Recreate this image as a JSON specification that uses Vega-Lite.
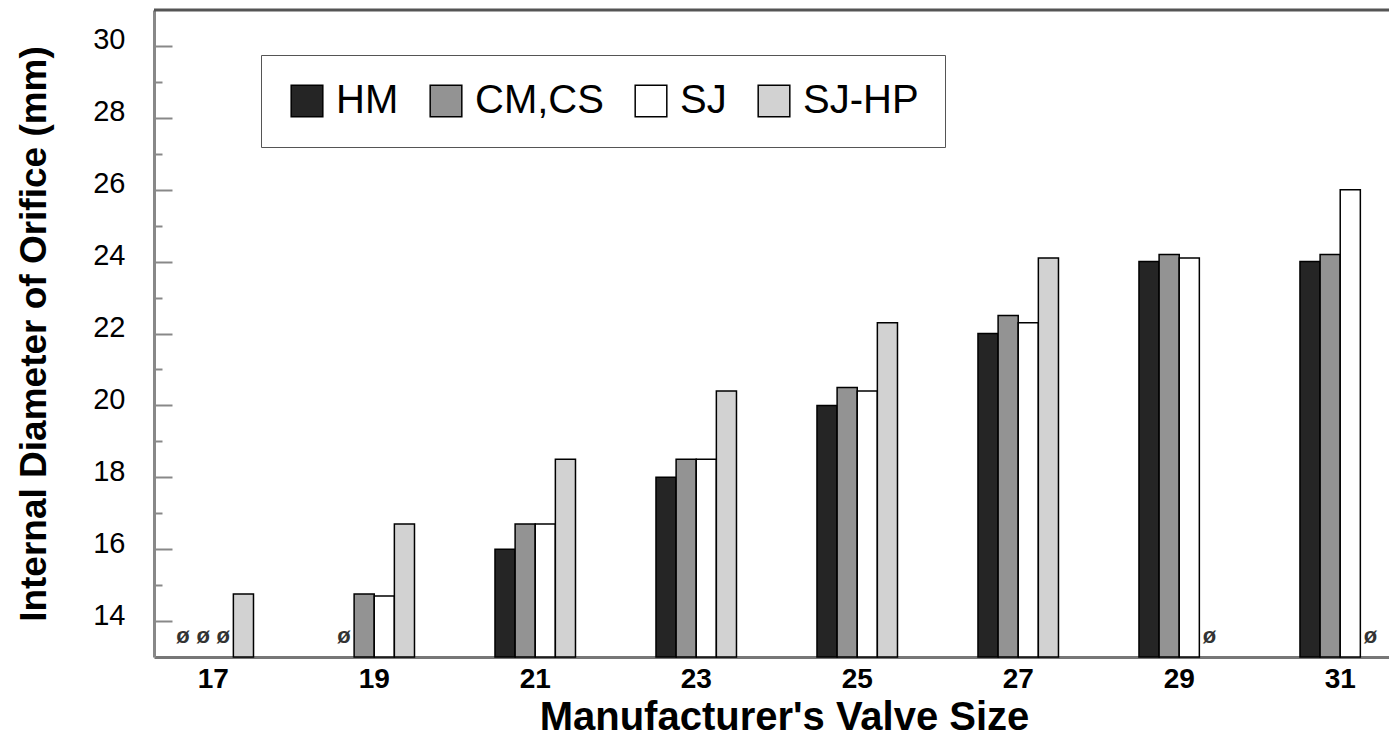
{
  "$schema": "https://vega.github.io/schema/vega-lite/v6.json",
  "width": 1235,
  "height": 647,
  "autosize": "none",
  "padding": {"left": 154, "top": 10, "right": 0, "bottom": 81},
  "background": "white",
  "data": {
    "values": [
      {"size": 17, "series": "HM", "value": null},
      {"size": 17, "series": "CM,CS", "value": null},
      {"size": 17, "series": "SJ", "value": null},
      {"size": 17, "series": "SJ-HP", "value": 14.75},
      {"size": 19, "series": "HM", "value": null},
      {"size": 19, "series": "CM,CS", "value": 14.75},
      {"size": 19, "series": "SJ", "value": 14.7},
      {"size": 19, "series": "SJ-HP", "value": 16.7},
      {"size": 21, "series": "HM", "value": 16.0},
      {"size": 21, "series": "CM,CS", "value": 16.7},
      {"size": 21, "series": "SJ", "value": 16.7},
      {"size": 21, "series": "SJ-HP", "value": 18.5},
      {"size": 23, "series": "HM", "value": 18.0},
      {"size": 23, "series": "CM,CS", "value": 18.5},
      {"size": 23, "series": "SJ", "value": 18.5},
      {"size": 23, "series": "SJ-HP", "value": 20.4},
      {"size": 25, "series": "HM", "value": 20.0},
      {"size": 25, "series": "CM,CS", "value": 20.5},
      {"size": 25, "series": "SJ", "value": 20.4},
      {"size": 25, "series": "SJ-HP", "value": 22.3},
      {"size": 27, "series": "HM", "value": 22.0},
      {"size": 27, "series": "CM,CS", "value": 22.5},
      {"size": 27, "series": "SJ", "value": 22.3},
      {"size": 27, "series": "SJ-HP", "value": 24.1},
      {"size": 29, "series": "HM", "value": 24.0},
      {"size": 29, "series": "CM,CS", "value": 24.2},
      {"size": 29, "series": "SJ", "value": 24.1},
      {"size": 29, "series": "SJ-HP", "value": null},
      {"size": 31, "series": "HM", "value": 24.0},
      {"size": 31, "series": "CM,CS", "value": 24.2},
      {"size": 31, "series": "SJ", "value": 26.0},
      {"size": 31, "series": "SJ-HP", "value": null}
    ]
  },
  "layer": [
    {
      "transform": [{"filter": "datum.value != null"}],
      "mark": {"type": "bar", "stroke": "black", "strokeWidth": 1.5},
      "encoding": {
        "x": {
          "field": "size",
          "type": "ordinal",
          "scale": {"paddingInner": 0.5, "paddingOuter": 0.0855, "align": 0.69},
          "axis": {
            "title": "Manufacturer's Valve Size",
            "titleFontSize": 40,
            "titleFontWeight": "bold",
            "titleColor": "black",
            "titleFont": "Liberation Sans",
            "titlePadding": 4,
            "titleX": 630,
            "labelFontSize": 28,
            "labelFontWeight": "bold",
            "labelColor": "black",
            "labelFont": "Liberation Sans",
            "labelAngle": 0,
            "labelPadding": 8,
            "ticks": false,
            "domain": true,
            "domainColor": "#777777",
            "domainWidth": 3
          }
        },
        "xOffset": {
          "field": "series",
          "type": "nominal",
          "scale": {"domain": ["HM", "CM,CS", "SJ", "SJ-HP"], "paddingInner": 0, "paddingOuter": 0}
        },
        "y": {
          "field": "value",
          "type": "quantitative",
          "scale": {"domain": [13, 31], "zero": false, "nice": false},
          "axis": {
            "title": "Internal Diameter of Orifice (mm)",
            "titleFontSize": 37,
            "titleFontWeight": "bold",
            "titleColor": "black",
            "titleFont": "Liberation Sans",
            "titlePadding": 39,
            "values": [14, 15, 16, 17, 18, 19, 20, 21, 22, 23, 24, 25, 26, 27, 28, 29, 30],
            "labelExpr": "datum.value % 2 == 0 ? datum.label : ''",
            "labelFontSize": 29,
            "labelColor": "black",
            "labelFont": "Liberation Sans",
            "labelPadding": 47,
            "labelOffset": -6,
            "tickSize": {"condition": {"test": "datum.value % 2 == 0", "value": -18}, "value": -8},
            "tickColor": "#888888",
            "tickWidth": 2,
            "grid": false,
            "domain": true,
            "domainColor": "#888888",
            "domainWidth": 3
          }
        },
        "y2": {"datum": 13},
        "color": {
          "field": "series",
          "type": "nominal",
          "scale": {"domain": ["HM", "CM,CS", "SJ", "SJ-HP"], "range": ["#252525", "#939393", "#ffffff", "#d2d2d2"]},
          "legend": {
            "orient": "none",
            "legendX": 107,
            "legendY": 45,
            "direction": "horizontal",
            "title": null,
            "padding": 26,
            "strokeColor": "#555555",
            "fillColor": "white",
            "labelFontSize": 40,
            "labelFont": "Liberation Sans",
            "labelColor": "black",
            "labelOffset": 9,
            "columnPadding": 27,
            "symbolType": "square",
            "symbolSize": 1000,
            "symbolOpacity": 1,
            "labelLimit": 300,
            "encode": {
              "legend": {"update": {"strokeWidth": {"value": 2.5}}},
              "symbols": {"update": {"stroke": {"value": "black"}, "strokeWidth": {"value": 1.5}}}
            }
          }
        }
      }
    },
    {
      "transform": [{"filter": "datum.value == null"}],
      "mark": {"type": "text", "text": "ø", "fontSize": 22, "fontWeight": "bold", "font": "Liberation Sans", "color": "#333333"},
      "encoding": {
        "x": {"field": "size", "type": "ordinal"},
        "xOffset": {"field": "series", "type": "nominal"},
        "y": {"datum": 13.59, "type": "quantitative"}
      }
    },
    {
      "data": {"values": [{"top": 31}]},
      "mark": {"type": "rule", "stroke": "#555555", "strokeWidth": 3},
      "encoding": {"y": {"field": "top", "type": "quantitative"}}
    }
  ],
  "config": {
    "view": {"stroke": null},
    "font": "Liberation Sans"
  }
}
